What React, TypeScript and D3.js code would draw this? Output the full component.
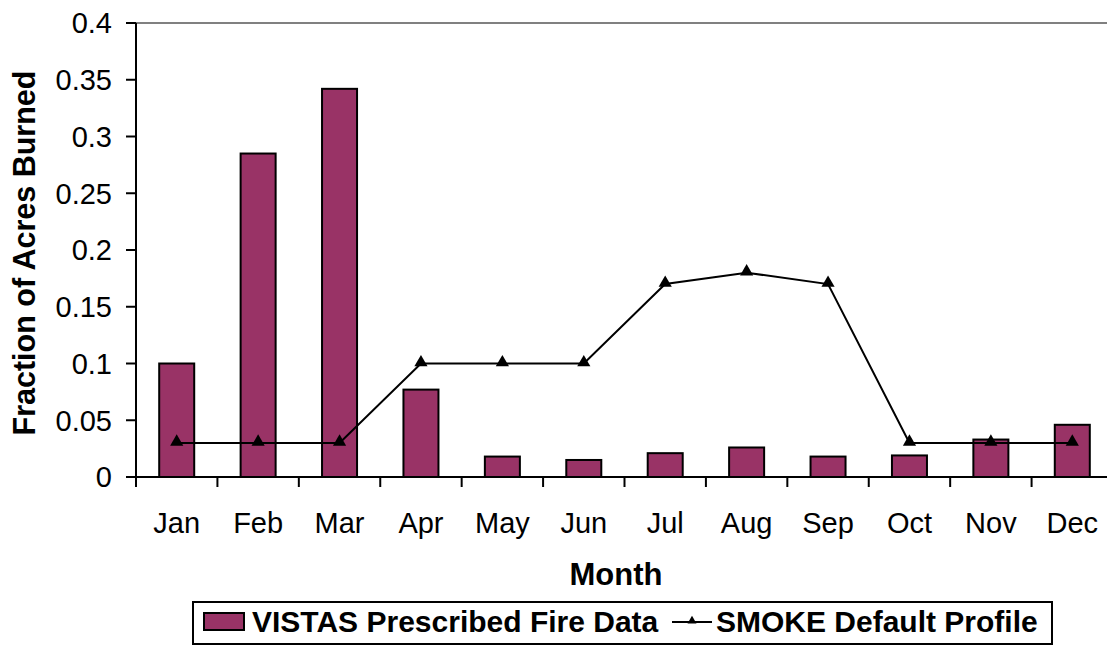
import React from "react";
import * as d3 from "d3";

// Monthly share of prescribed-fire acres burned
const months = ["Jan", "Feb", "Mar", "Apr", "May", "Jun", "Jul", "Aug", "Sep", "Oct", "Nov", "Dec"];
const vistasFraction = [0.1, 0.285, 0.342, 0.077, 0.018, 0.015, 0.021, 0.026, 0.018, 0.019, 0.033, 0.046];
const smokeProfile = [0.03, 0.03, 0.03, 0.1, 0.1, 0.1, 0.17, 0.18, 0.17, 0.03, 0.03, 0.03];
const yTicks = [0, 0.05, 0.1, 0.15, 0.2, 0.25, 0.3, 0.35, 0.4];

const W = 1107;
const H = 645;
const left = 136;
const right = 1113;
const top = 23;
const bottom = 477;
const barColor = "#993366";
const font = "'Liberation Sans', Arial, sans-serif";

export default function App() {
  const x = d3.scaleBand<string>().domain(months).range([left, right]).paddingInner(0).paddingOuter(0);
  const y = d3.scaleLinear().domain([0, 0.4]).range([bottom, top]);
  const bw = x.bandwidth() * 0.43;
  const cx = (m: string) => (x(m) ?? 0) + x.bandwidth() / 2;

  const line = d3
    .line<number>()
    .x((_, i) => cx(months[i]))
    .y((d) => y(d));

  const tri = d3.symbol().type(d3.symbolTriangle).size(75)();

  return (
    <svg
      width={W}
      height={H}
      style={{ position: "absolute", left: 0, top: 0, background: "#fff" }}
      fontFamily={font}
    >
      {/* top gridline */}
      <line x1={left} x2={W} y1={y(0.4)} y2={y(0.4)} stroke="#808080" strokeWidth={2} />

      {/* bars */}
      {vistasFraction.map((v, i) => (
        <rect
          key={months[i]}
          x={cx(months[i]) - bw / 2}
          y={y(v)}
          width={bw}
          height={y(0) - y(v)}
          fill={barColor}
          stroke="#000"
          strokeWidth={2}
        />
      ))}

      {/* y axis */}
      <line x1={left} x2={left} y1={top} y2={bottom} stroke="#000" strokeWidth={2} />
      {yTicks.map((t) => (
        <g key={t}>
          <line x1={left - 10} x2={left} y1={y(t)} y2={y(t)} stroke="#000" strokeWidth={2} />
          <text x={left - 24} y={y(t)} dy="0.36em" textAnchor="end" fontSize={29} fill="#000">
            {String(t)}
          </text>
        </g>
      ))}

      {/* x axis */}
      <line x1={left} x2={W} y1={bottom} y2={bottom} stroke="#000" strokeWidth={2} />
      {months.map((m) => (
        <g key={m}>
          <line x1={x(m)} x2={x(m)} y1={bottom} y2={bottom + 10} stroke="#000" strokeWidth={2} />
          <text x={cx(m)} y={533} textAnchor="middle" fontSize={29} fill="#000">
            {m}
          </text>
        </g>
      ))}

      {/* SMOKE profile line */}
      <path d={line(smokeProfile) ?? ""} fill="none" stroke="#000" strokeWidth={2} />
      {smokeProfile.map((v, i) => (
        <path key={i} d={tri ?? ""} transform={`translate(${cx(months[i])},${y(v) - 1})`} fill="#000" />
      ))}

      {/* axis titles */}
      <text x={616} y={585} textAnchor="middle" fontSize={31} fontWeight="bold" fill="#000">
        Month
      </text>
      <text
        transform={`translate(35,253) rotate(-90)`}
        textAnchor="middle"
        fontSize={30.5}
        fontWeight="bold"
        fill="#000"
      >
        Fraction of Acres Burned
      </text>

      {/* legend */}
      <rect x={193} y={602} width={859} height={42} fill="#fff" stroke="#000" strokeWidth={2} />
      <rect x={204} y={613} width={40} height={17} fill={barColor} stroke="#000" strokeWidth={2} />
      <text x={252} y={632} fontSize={30} fontWeight="bold" fill="#000">
        VISTAS Prescribed Fire Data
      </text>
      <line x1={672} x2={712} y1={622} y2={622} stroke="#000" strokeWidth={2} />
      <path d={d3.symbol().type(d3.symbolTriangle).size(35)() ?? ""} transform="translate(692,621)" fill="#000" />
      <text x={716} y={632} fontSize={30} fontWeight="bold" fill="#000">
        SMOKE Default Profile
      </text>
    </svg>
  );
}
